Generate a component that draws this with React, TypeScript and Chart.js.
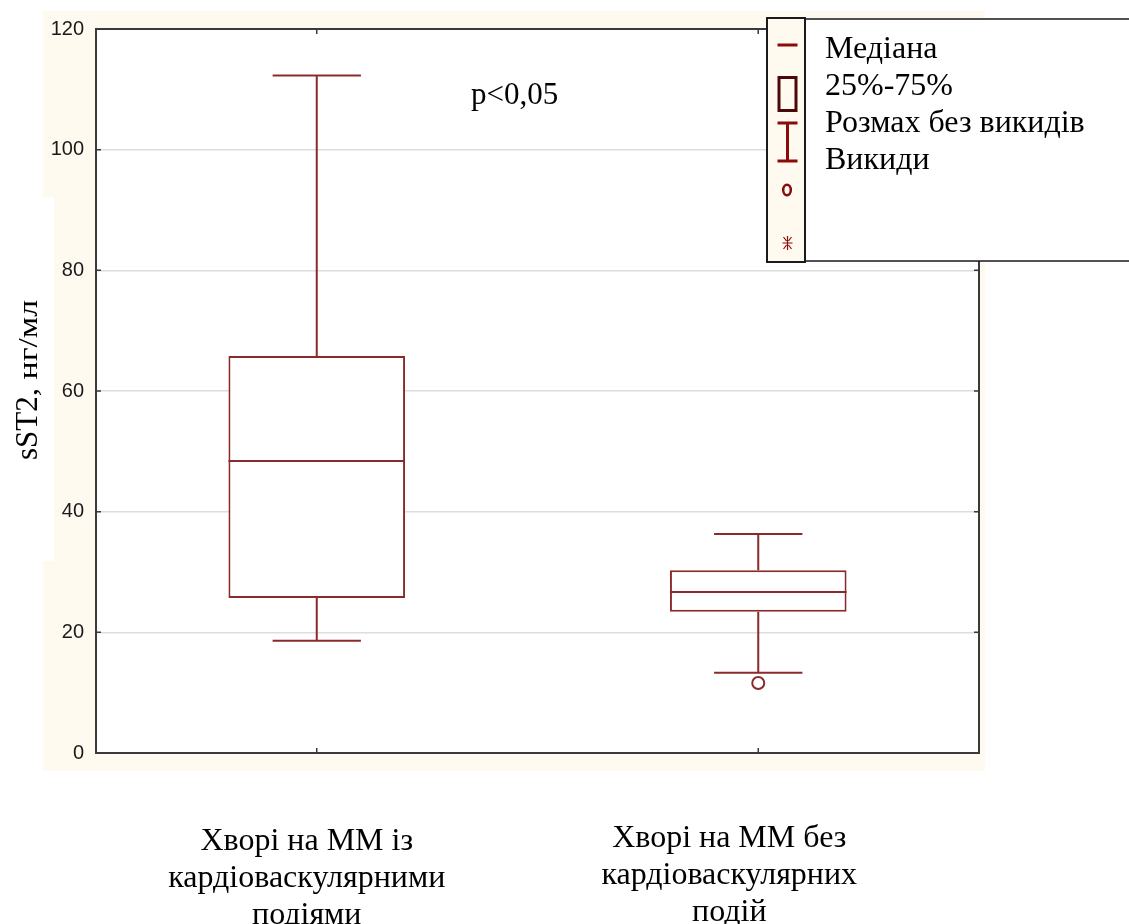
import React, { useEffect, useRef } from "react";
import { Chart, registerables } from "chart.js";

Chart.register(...registerables);

// Groups on the x axis
const categories = ["1", "2"];
// Box-plot statistics per group (sST2, нг/мл)
const q1Values = [25.7, 23.4];
const medianValues = [48.4, 26.7];
const q3Values = [65.8, 30.3];
const whiskerLow = [18.6, 13.3];
const whiskerHigh = [112.3, 36.3];
const outlierValues: (number | null)[] = [null, 11.6];

// Y axis
const yMin = 0;
const yMax = 120;
const yStep = 20;

// Texts
const groupLabels = [
  ["Хворі на ММ із", "кардіоваскулярними", "подіями"],
  ["Хворі на ММ без", "кардіоваскулярних", "подій"],
];
const legendLabels = ["Медіана", "25%-75%", "Розмах без викидів", "Викиди"];
const pValueText = "p<0,05";
const yTitleMain = "sST2";
const yTitleUnit = ", нг/мл";

const boxColor = "#8b2a2a";
const legendColor = "#8b0a0a";
const cream = "#fffaf0";
const frameColor = "#3a3a3a";
const serif = "'Liberation Serif', 'Times New Roman', serif";
const sans = "'Liberation Sans', Arial, sans-serif";

const W = 1129;
const H = 924;

const decorPlugin = {
  id: "decor",
  beforeDraw(chart: any) {
    const { ctx, chartArea } = chart;
    ctx.save();
    ctx.fillStyle = "#ffffff";
    ctx.fillRect(0, 0, W, H);
    ctx.fillStyle = cream;
    ctx.fillRect(43, 11, 942, 760);
    ctx.fillStyle = "#ffffff";
    ctx.fillRect(43, 197, 11, 364);
    ctx.fillRect(chartArea.left, chartArea.top, chartArea.right - chartArea.left, chartArea.bottom - chartArea.top);
    ctx.restore();
  },
  afterDatasetsDraw(chart: any) {
    const { ctx } = chart;
    const xs = chart.scales.x;
    const ys = chart.scales.y;
    const meta = chart.getDatasetMeta(0);
    ctx.save();
    ctx.strokeStyle = boxColor;
    ctx.lineWidth = 2;
    categories.forEach((_, i) => {
      const bar = meta.data[i];
      const cx = xs.getPixelForValue(i);
      const half = bar.width / 2;
      const cap = bar.width / 4;
      const yq1 = ys.getPixelForValue(q1Values[i]);
      const yq3 = ys.getPixelForValue(q3Values[i]);
      const ylo = ys.getPixelForValue(whiskerLow[i]);
      const yhi = ys.getPixelForValue(whiskerHigh[i]);
      const ymed = ys.getPixelForValue(medianValues[i]);
      ctx.beginPath();
      // whiskers
      ctx.moveTo(cx, yq3);
      ctx.lineTo(cx, yhi);
      ctx.moveTo(cx - cap, yhi);
      ctx.lineTo(cx + cap, yhi);
      ctx.moveTo(cx, yq1);
      ctx.lineTo(cx, ylo);
      ctx.moveTo(cx - cap, ylo);
      ctx.lineTo(cx + cap, ylo);
      // median
      ctx.moveTo(cx - half, ymed);
      ctx.lineTo(cx + half, ymed);
      ctx.stroke();
    });
    ctx.restore();
  },
  afterDraw(chart: any) {
    const { ctx, chartArea } = chart;
    const { left, right, top, bottom } = chartArea;
    const xs = chart.scales.x;
    const ys = chart.scales.y;
    ctx.save();
    // area below the axis strip
    ctx.fillStyle = "#ffffff";
    ctx.fillRect(0, 771, W, H - 771);

    // plot frame
    ctx.strokeStyle = frameColor;
    ctx.lineWidth = 2;
    ctx.strokeRect(left, top, right - left, bottom - top);

    // inward tick marks
    ctx.lineWidth = 1.5;
    ctx.beginPath();
    for (let v = yMin; v <= yMax; v += yStep) {
      const y = ys.getPixelForValue(v);
      ctx.moveTo(left, y);
      ctx.lineTo(left + 5, y);
      ctx.moveTo(right, y);
      ctx.lineTo(right - 5, y);
    }
    categories.forEach((_, i) => {
      const x = xs.getPixelForValue(i);
      ctx.moveTo(x, top);
      ctx.lineTo(x, top + 5);
      ctx.moveTo(x, bottom);
      ctx.lineTo(x, bottom - 5);
    });
    ctx.stroke();

    // p-value
    ctx.fillStyle = "#000000";
    ctx.font = `31px ${serif}`;
    ctx.textAlign = "left";
    ctx.textBaseline = "alphabetic";
    ctx.fillText(pValueText, 471, 104);

    // y-axis title
    ctx.save();
    ctx.translate(37, 380);
    ctx.rotate(-Math.PI / 2);
    const unitStretch = 1.25;
    ctx.font = `31px ${serif}`;
    const w1 = ctx.measureText(yTitleMain).width;
    ctx.font = `27px ${serif}`;
    const w2 = ctx.measureText(yTitleUnit).width * unitStretch;
    const start = -(w1 + w2) / 2;
    ctx.font = `31px ${serif}`;
    ctx.fillText(yTitleMain, start, 0);
    ctx.font = `27px ${serif}`;
    ctx.translate(start + w1, 0);
    ctx.scale(unitStretch, 1);
    ctx.fillText(yTitleUnit, 0, 0);
    ctx.restore();

    // group labels under the axis
    ctx.font = `32px ${serif}`;
    ctx.textAlign = "center";
    const labelCenters = [xs.getPixelForValue(0) - 10, xs.getPixelForValue(1) - 29];
    const labelBaselines = [850, 847];
    groupLabels.forEach((lines, i) => {
      lines.forEach((line, j) => {
        ctx.fillText(line, labelCenters[i], labelBaselines[i] + j * 37);
      });
    });

    // legend
    const lx = 767;
    const ly = 18;
    const lh = 244;
    const colW = 38;
    ctx.fillStyle = "#ffffff";
    ctx.fillRect(lx + colW, ly + 1, W - lx - colW + 5, lh - 2);
    ctx.strokeStyle = "#1a1a1a";
    ctx.lineWidth = 1.5;
    ctx.strokeRect(lx + colW, ly + 1, W - lx - colW + 5, lh - 2);
    ctx.fillStyle = cream;
    ctx.fillRect(lx, ly, colW, lh);
    ctx.lineWidth = 2;
    ctx.strokeRect(lx, ly, colW, lh);

    const ix = lx + 20.5;
    ctx.strokeStyle = legendColor;
    ctx.lineWidth = 3;
    ctx.beginPath();
    // median dash
    ctx.moveTo(ix - 10, 45);
    ctx.lineTo(ix + 10, 45);
    ctx.stroke();
    // box
    ctx.strokeStyle = "#4a0808";
    ctx.strokeRect(ix - 8.5, 77.5, 17, 33);
    // whisker
    ctx.strokeStyle = legendColor;
    ctx.beginPath();
    ctx.moveTo(ix - 10, 123);
    ctx.lineTo(ix + 10, 123);
    ctx.moveTo(ix, 123);
    ctx.lineTo(ix, 161);
    ctx.moveTo(ix - 10, 161);
    ctx.lineTo(ix + 10, 161);
    ctx.stroke();
    // outlier marker
    ctx.lineWidth = 2.5;
    ctx.beginPath();
    ctx.ellipse(ix - 0.5, 190, 3.8, 5.2, 0, 0, Math.PI * 2);
    ctx.stroke();
    // extreme marker
    ctx.lineWidth = 1.2;
    ctx.beginPath();
    ctx.moveTo(ix - 5, 243);
    ctx.lineTo(ix + 5, 243);
    ctx.moveTo(ix, 236);
    ctx.lineTo(ix, 250);
    ctx.moveTo(ix - 4, 237);
    ctx.lineTo(ix - 1, 241);
    ctx.moveTo(ix + 4, 237);
    ctx.lineTo(ix + 1, 241);
    ctx.moveTo(ix - 4, 249);
    ctx.lineTo(ix - 1, 245);
    ctx.moveTo(ix + 4, 249);
    ctx.lineTo(ix + 1, 245);
    ctx.stroke();

    ctx.fillStyle = "#000000";
    ctx.font = `32px ${serif}`;
    ctx.textAlign = "left";
    legendLabels.forEach((t, i) => {
      ctx.fillText(t, 825, 58 + i * 37);
    });
    ctx.restore();
  },
};

export default function App() {
  const canvasRef = useRef<HTMLCanvasElement | null>(null);

  useEffect(() => {
    const canvas = canvasRef.current;
    if (!canvas) return;
    const chart = new Chart(canvas, {
      type: "bar",
      data: {
        labels: categories,
        datasets: [
          {
            type: "bar",
            data: q1Values.map((q, i) => [q, q3Values[i]]) as any,
            backgroundColor: "#ffffff",
            borderColor: boxColor,
            borderWidth: 2,
            borderSkipped: false,
            barPercentage: 0.4,
            categoryPercentage: 1,
          },
          {
            type: "line",
            data: outlierValues as any,
            showLine: false,
            pointRadius: 6,
            pointBorderWidth: 2,
            pointBackgroundColor: "#ffffff",
            pointBorderColor: boxColor,
            borderColor: boxColor,
          } as any,
        ],
      },
      options: {
        animation: false,
        responsive: false,
        maintainAspectRatio: false,
        devicePixelRatio: 1,
        layout: { padding: { left: 36, top: 29, right: 150, bottom: 141 } },
        plugins: {
          legend: { display: false },
          tooltip: { enabled: false },
        },
        scales: {
          x: {
            offset: true,
            grid: { display: false, drawTicks: false },
            border: { display: false },
            ticks: {
              padding: 15,
              color: "#1a1a1a",
              font: { family: sans, size: 20 },
            },
            afterFit(scale: any) {
              scale.height = 30;
            },
          },
          y: {
            min: yMin,
            max: yMax,
            grid: { color: "#dddddd", lineWidth: 1.5, drawTicks: false },
            border: { display: false },
            ticks: {
              stepSize: yStep,
              padding: 12,
              color: "#1a1a1a",
              font: { family: sans, size: 20 },
            },
            afterFit(scale: any) {
              scale.width = 60;
            },
          },
        },
      },
      plugins: [decorPlugin],
    });
    return () => chart.destroy();
  }, []);

  return (
    <div style={{ position: "absolute", left: 0, top: 0, width: W, height: H }}>
      <canvas ref={canvasRef} width={W} height={H} style={{ display: "block" }} />
    </div>
  );
}
